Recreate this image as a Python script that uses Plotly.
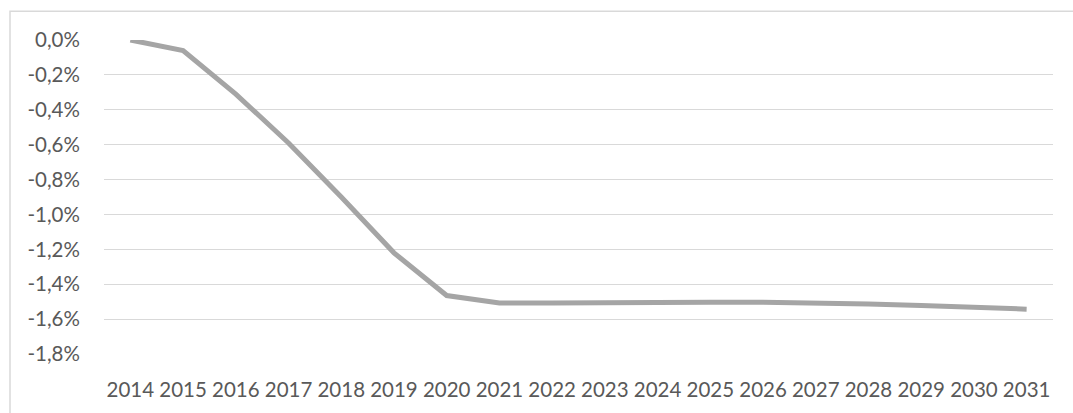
import plotly.graph_objects as go

# Yearly change, in percent
years = list(range(2014, 2032))
change_pct = [0.0, -0.06, -0.31, -0.59, -0.90, -1.22, -1.465, -1.507, -1.507, -1.504,
              -1.504, -1.504, -1.504, -1.507, -1.514, -1.522, -1.532, -1.543]

y_ticks = [0.0, -0.2, -0.4, -0.6, -0.8, -1.0, -1.2, -1.4, -1.6, -1.8]
y_tick_labels = ["0,0%", "-0,2%", "-0,4%", "-0,6%", "-0,8%",
                 "-1,0%", "-1,2%", "-1,4%", "-1,6%", "-1,8%"]

W, H = 1073, 413
ML, MR, MT, MB = 104, 20, 40, 56
PW, PH = W - ML - MR, H - MT - MB

text_color = "#595959"
grid_color = "#D9D9D9"
font = dict(family="Lato, 'Open Sans', sans-serif", size=20.5, color=text_color)

fig = go.Figure()
fig.add_trace(go.Scatter(
    x=years, y=change_pct, mode="lines",
    line=dict(color="#A5A5A5", width=5),
    hoverinfo="skip", showlegend=False,
))

# Chart-area frame (left and top edges visible)
fig.add_shape(
    type="rect", xref="paper", yref="paper",
    x0=(10 - ML) / PW, x1=(W + 20 - ML) / PW,
    y0=1 - (H + 20 - MT) / PH, y1=1 - (11 - MT) / PH,
    line=dict(color=grid_color, width=1.5), fillcolor="rgba(0,0,0,0)", layer="below",
)

fig.update_layout(
    width=W, height=H,
    margin=dict(l=ML, r=MR, t=MT, b=MB),
    paper_bgcolor="white", plot_bgcolor="white",
    font=font,
    xaxis=dict(
        range=[2013.5, 2031.5], tickmode="array", tickvals=years,
        ticktext=[str(y) for y in years],
        showgrid=False, zeroline=False, showline=False,
        ticks="outside", ticklen=17, tickcolor="rgba(0,0,0,0)",
        tickfont=font, fixedrange=True,
    ),
    yaxis=dict(
        range=[-1.8, 0.0], tickmode="array", tickvals=y_ticks, ticktext=y_tick_labels,
        showgrid=True, gridcolor=grid_color, gridwidth=1.3,
        zeroline=False, showline=False,
        ticks="outside", ticklen=19, tickcolor="rgba(0,0,0,0)",
        tickfont=font, fixedrange=True,
    ),
)

fig.write_html("out.html")
